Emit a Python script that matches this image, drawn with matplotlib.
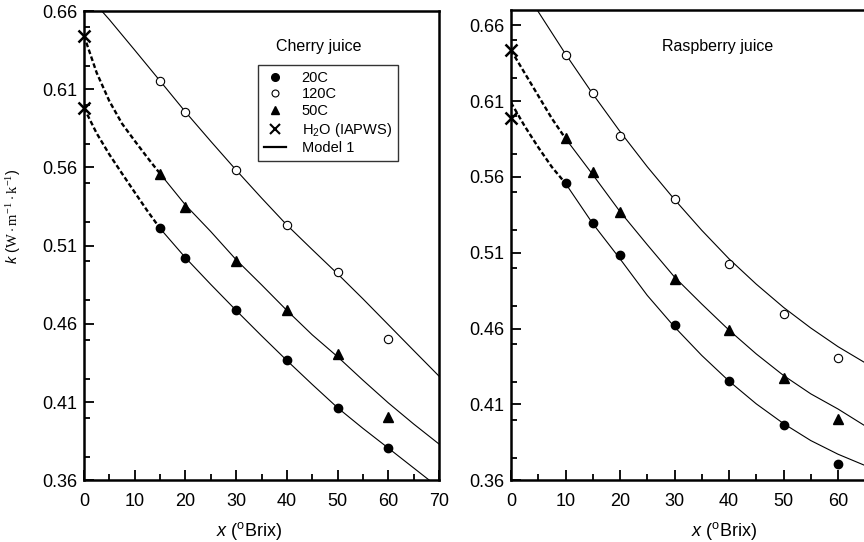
import matplotlib
matplotlib.use("Agg")
import matplotlib.pyplot as plt
from matplotlib.lines import Line2D
from matplotlib.ticker import MultipleLocator, FormatStrFormatter

plt.rcParams['font.family'] = ['Liberation Sans', 'DejaVu Sans']
plt.rcParams['mathtext.fontset'] = 'custom'
plt.rcParams['mathtext.rm'] = 'Liberation Sans'
plt.rcParams['mathtext.it'] = 'Liberation Sans:italic'
plt.rcParams['mathtext.sf'] = 'Liberation Serif'

# ---------------- Cherry juice data ----------------
ch_x = [15, 20, 30, 40, 50, 60]
ch_20 = [0.521, 0.502, 0.4686, 0.4366, 0.4064, 0.3806]
ch_50 = [0.556, 0.535, 0.500, 0.4686, 0.4405, 0.4006]
ch_120 = [0.6153, 0.5955, 0.5583, 0.5234, 0.4934, 0.4504]
ch_water_x = [0, 0]
ch_water = [0.5983, 0.6442]

ch_model_x = [15, 20, 25, 30, 35, 40, 45, 50, 55, 60, 65, 70]
ch_m20 = [0.521, 0.5023, 0.4852, 0.4686, 0.4524, 0.4366, 0.4213, 0.4064, 0.3932, 0.3806, 0.3679, 0.3552]
ch_m50 = [0.556, 0.536, 0.519, 0.501, 0.485, 0.4686, 0.453, 0.439, 0.424, 0.4095, 0.396, 0.3832]
ch_m120_x = [3.5, 5, 10, 15, 20, 25, 30, 35, 40, 45, 50, 55, 60, 65, 70]
ch_m120 = [0.660, 0.6545, 0.635, 0.6153, 0.5955, 0.5767, 0.5583, 0.5405, 0.5232, 0.5075, 0.4920, 0.4760, 0.4595, 0.4430, 0.4266]
ch_dash_x = [0, 2.5, 5, 7.5, 10, 12.5, 15]
ch_d20 = [0.598, 0.5818, 0.5683, 0.5561, 0.5441, 0.5322, 0.521]
ch_d50 = [0.6442, 0.6205, 0.6024, 0.588, 0.577, 0.5663, 0.556]

# ---------------- Raspberry juice data ----------------
rb_x = [10, 15, 20, 30, 40, 50, 60]
rb_20 = [0.5557, 0.5293, 0.5084, 0.4623, 0.4254, 0.3964, 0.3705]
rb_50 = [0.5853, 0.5629, 0.5369, 0.4924, 0.459, 0.4276, 0.4006]
rb_120 = [0.6402, 0.6153, 0.587, 0.5451, 0.5023, 0.4698, 0.4404]
rb_water_x = [0, 0]
rb_water = [0.5985, 0.6435]

rb_model_x = [10, 15, 20, 25, 30, 35, 40, 45, 50, 55, 60, 65, 70]
rb_m20 = [0.5557, 0.5292, 0.506, 0.4819, 0.4611, 0.4423, 0.4254, 0.4104, 0.3974, 0.3862, 0.3772, 0.3697, 0.3644]
rb_m50 = [0.5853, 0.5615, 0.5371, 0.5153, 0.4940, 0.4762, 0.4590, 0.4433, 0.4291, 0.4170, 0.4070, 0.3958, 0.3878]
rb_m120_x = [4.8, 5, 10, 15, 20, 25, 30, 35, 40, 45, 50, 55, 60, 65, 70]
rb_m120 = [0.670, 0.6689, 0.6410, 0.6147, 0.5899, 0.5667, 0.5451, 0.5248, 0.5060, 0.4893, 0.4740, 0.4604, 0.4481, 0.4374, 0.4283]
rb_dash_x = [0, 2.5, 5, 7.5, 10]
rb_d20 = [0.609, 0.5935, 0.5795, 0.5665, 0.5557]
rb_d50 = [0.6435, 0.6285, 0.6135, 0.5985, 0.5853]

x_ticks = [0, 10, 20, 30, 40, 50, 60, 70]
x_labels_left = ['0', '10', '20', '30', '40', '50', '60', '70']
x_labels_right = ['0', '10', '20', '30', '40', '50', '60', '']
y_ticks = [0.36, 0.41, 0.46, 0.51, 0.56, 0.61, 0.66]
legend_labels = ['20C', '120C', '50C', 'H$_2$O (IAPWS)', 'Model 1']

W, H = 864, 542
fig = plt.figure(figsize=(W / 100, H / 100), dpi=100)

def px_axes(left, right, top, bottom):
    return fig.add_axes([left / W, 1 - bottom / H, (right - left) / W, (bottom - top) / H])

axL = px_axes(84, 439, 11, 480.3)
axR = px_axes(511, 511 + 381.5, 10, 480.3)

mk = dict(linestyle='none', color='black')

def draw(ax, x, y20, y50, y120, wx, wy, mx, m20, m50, m120x, m120, dx, d20, d50, ylim, xlabels):
    ax.plot(mx, m20, color='black', lw=0.8)
    ax.plot(mx, m50, color='black', lw=0.8)
    ax.plot(m120x, m120, color='black', lw=0.8)
    ax.plot(dx, d20, color='black', lw=1.7, linestyle=(0, (2.0, 1.1)))
    ax.plot(dx, d50, color='black', lw=1.7, linestyle=(0, (2.0, 1.1)))
    ax.plot(x, y20, marker='o', ms=6, **mk)
    ax.plot(x, y120, marker='o', ms=6, mfc='white', mec='black', mew=0.8, **mk)
    ax.plot(x, y50, marker='^', ms=6.5, **mk)
    ax.plot(wx, wy, marker='x', ms=8, mew=1.8, clip_on=False, **mk)
    ax.set_xlim(0, 70)
    ax.set_ylim(*ylim)
    ax.set_xticks(x_ticks)
    ax.set_xticklabels(xlabels)
    ax.set_yticks(y_ticks)
    ax.xaxis.set_minor_locator(MultipleLocator(5))
    ax.yaxis.set_minor_locator(MultipleLocator(0.025))
    ax.yaxis.set_major_formatter(FormatStrFormatter('%.2f'))
    ax.tick_params(which='both', direction='in', top=False, right=False, width=1.3, labelsize=13)
    ax.tick_params(which='major', length=7)
    ax.tick_params(which='minor', length=4)
    ax.tick_params(axis='x', pad=9)
    ax.tick_params(axis='y', pad=5)
    for s in ax.spines.values():
        s.set_linewidth(1.8)

draw(axL, ch_x, ch_20, ch_50, ch_120, ch_water_x, ch_water, ch_model_x, ch_m20, ch_m50,
     ch_m120_x, ch_m120, ch_dash_x, ch_d20, ch_d50, (0.36, 0.66), x_labels_left)
draw(axR, rb_x, rb_20, rb_50, rb_120, rb_water_x, rb_water, rb_model_x, rb_m20, rb_m50,
     rb_m120_x, rb_m120, rb_dash_x, rb_d20, rb_d50, (0.36, 0.67), x_labels_right)

handles = [
    Line2D([], [], marker='o', ms=5.5, **mk),
    Line2D([], [], marker='o', ms=5, mfc='white', mec='black', mew=0.8, **mk),
    Line2D([], [], marker='^', ms=5.5, **mk),
    Line2D([], [], marker='x', ms=7, mew=1.5, **mk),
    Line2D([], [], color='black', lw=1.6),
]
leg = axL.legend(handles, legend_labels, loc='upper left', bbox_to_anchor=(0.49, 0.885),
                 borderaxespad=0, fontsize=10.5, frameon=True, fancybox=False,
                 edgecolor='black', handlelength=1.5, handletextpad=1.1,
                 labelspacing=0.18, borderpad=0.4)
leg.get_frame().set_linewidth(1.0)

fig.text(319 / W, 1 - 46 / H, 'Cherry juice', fontsize=11.5, ha='center', va='center')
fig.text(718 / W, 1 - 46 / H, 'Raspberry juice', fontsize=11.5, ha='center', va='center')

fig.text(249 / W, 1 - 531 / H, r'$x$ ($^{\mathrm{o}}$Brix)', fontsize=13, ha='center', va='center')
fig.text(724 / W, 1 - 531 / H, r'$x$ ($^{\mathrm{o}}$Brix)', fontsize=13, ha='center', va='center')
fig.text(14 / W, 1 - 216 / H, r'$k$ ($\mathsf{W\cdot m^{-1}\cdot k^{-1}}$)', fontsize=10.5,
         rotation=90, ha='center', va='center')

fig.savefig('out.png', dpi=100)
